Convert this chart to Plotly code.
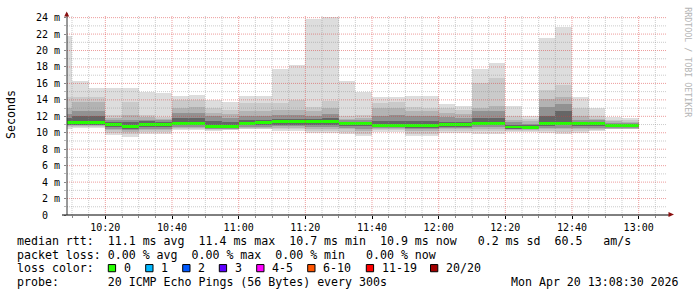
import plotly.graph_objects as go
import pandas as pd

# ---------------- data ----------------
# 5-minute RRD steps, each value belongs to the interval ending at seg_end
seg_end = pd.date_range("2026-04-20 10:10:00", periods=35, freq="5min")

ping_max = [21.8, 16.3, 15.5, 15.4, 15.4, 15.0, 14.8, 14.5, 14.6, 14.0, 13.8, 14.5, 14.5, 17.8, 18.3,
            23.8, 24.1, 16.3, 15.0, 14.4, 14.3, 14.5, 14.5, 13.5, 13.3, 17.8, 18.5, 13.2, 12.0, 21.5,
            22.9, 14.4, 13.0, 11.9, 11.8]
upper2 = [14.3, 14.4, 14.4, 12.1, 13.7, 12.1, 11.9, 14.0, 14.0, 13.0, 12.8, 13.6, 13.6, 13.6, 14.0,
          13.1, 13.9, 12.0, 12.1, 13.6, 13.8, 13.1, 13.0, 13.0, 12.8, 16.0, 16.6, 12.0, 11.7, 15.2,
          15.8, 13.0, 12.0, 11.6, 11.6]
upper3 = [13.0, 13.8, 13.8, 11.8, 12.1, 11.9, 11.7, 13.0, 13.1, 12.4, 12.3, 12.6, 12.6, 12.8, 12.8,
          12.6, 13.0, 11.7, 11.8, 13.0, 13.0, 12.6, 12.6, 12.4, 12.3, 13.0, 13.2, 11.6, 11.4, 14.1,
          14.4, 12.0, 11.7, 11.4, 11.3]
upper4 = [12.3, 12.6, 12.6, 11.5, 11.6, 11.6, 11.5, 12.4, 12.4, 12.0, 11.8, 12.0, 12.0, 12.2, 12.2,
          12.0, 12.3, 11.5, 11.5, 12.0, 12.1, 12.0, 12.0, 11.9, 11.8, 12.6, 12.6, 11.3, 11.1, 13.1,
          13.5, 11.6, 11.5, 11.2, 11.15]
upper5 = [11.8, 12.0, 12.0, 11.3, 11.3, 11.4, 11.3, 11.8, 11.8, 11.4, 11.3, 11.6, 11.6, 11.7, 11.7,
          11.7, 11.8, 11.3, 11.3, 11.4, 11.4, 11.4, 11.4, 11.3, 11.3, 11.8, 11.8, 11.0, 10.9, 12.0,
          12.6, 11.3, 11.3, 11.05, 11.0]
median_rtt = [11.3, 11.3, 11.3, 11.0, 10.8, 11.0, 11.0, 11.1, 11.1, 10.8, 10.76, 11.1, 11.2, 11.35, 11.4,
              11.4, 11.4, 11.1, 11.1, 10.9, 10.9, 10.9, 10.9, 11.0, 11.0, 11.1, 11.1, 10.7, 10.65, 11.1,
              11.15, 11.1, 11.1, 10.9, 10.85]
lower5 = [11.0, 11.0, 11.0, 10.7, 10.5, 10.7, 10.7, 10.9, 10.9, 10.6, 10.6, 10.9, 10.9, 11.0, 11.0,
          11.0, 11.0, 10.8, 10.8, 10.7, 10.7, 10.6, 10.6, 10.7, 10.7, 10.9, 10.9, 10.5, 10.5, 10.8,
          10.9, 10.8, 10.8, 10.7, 10.7]
lower4 = [10.9, 10.9, 10.9, 10.5, 10.3, 10.5, 10.5, 10.7, 10.7, 10.5, 10.5, 10.7, 10.7, 10.8, 10.8,
          10.7, 10.7, 10.6, 10.5, 10.6, 10.6, 10.4, 10.4, 10.6, 10.6, 10.7, 10.7, 10.4, 10.4, 10.6,
          10.6, 10.6, 10.6, 10.6, 10.6]
lower3 = [10.8, 10.8, 10.8, 10.3, 10.1, 10.3, 10.3, 10.6, 10.6, 10.4, 10.4, 10.6, 10.6, 10.6, 10.6,
          10.4, 10.4, 10.4, 10.2, 10.5, 10.5, 10.2, 10.2, 10.4, 10.4, 10.5, 10.5, 10.3, 10.3, 10.4,
          10.4, 10.4, 10.5, 10.5, 10.5]
lower2 = [10.7, 10.7, 10.7, 10.0, 9.8, 10.1, 10.1, 10.5, 10.5, 10.3, 10.3, 10.5, 10.5, 10.4, 10.4,
          10.2, 10.2, 10.1, 9.9, 10.3, 10.3, 9.9, 9.9, 10.2, 10.2, 10.2, 10.2, 10.2, 10.2, 10.2,
          10.1, 10.2, 10.3, 10.45, 10.45]
ping_min = [10.5, 10.6, 10.6, 9.7, 9.5, 9.8, 9.8, 10.3, 10.3, 10.2, 10.3, 10.4, 10.4, 10.2, 10.2,
            10.0, 10.0, 9.8, 9.6, 10.1, 10.1, 9.6, 9.6, 10.0, 10.0, 9.9, 9.9, 10.1, 10.1, 10.0,
            9.8, 10.0, 10.2, 10.4, 10.4]

y_tick_vals = [0, 2, 4, 6, 8, 10, 12, 14, 16, 18, 20, 22, 24]
y_tick_text = ["0  ", "2 m", "4 m", "6 m", "8 m", "10 m", "12 m", "14 m", "16 m", "18 m", "20 m", "22 m", "24 m"]
y_minor_vals = [1, 3, 5, 7, 9, 11, 13, 15, 17, 19, 21, 23]

loss_labels = ["0", "1", "2", "3", "4-5", "6-10", "11-19", "20/20"]
loss_colors = ["#26ff00", "#00b8ff", "#0059ff", "#5e00ff", "#ff00ff", "#ff5500", "#ff0000", "#a10000"]
loss_box_px = [108.3, 145.7, 182.7, 219.3, 256.7, 307.7, 366.3, 430.5]

stats_line1 = "median rtt:  11.1 ms avg  11.4 ms max  10.7 ms min  10.9 ms now   0.2 ms sd  60.5   am/s"
stats_line2 = "packet loss: 0.00 % avg  0.00 % max  0.00 % min   0.00 % now"
probe_line = "probe:       20 ICMP Echo Pings (56 Bytes) every 300s"
stamp_text = "Mon Apr 20 13:08:30 2026"

X0 = pd.Timestamp("2026-04-20 10:08:30")
X1 = pd.Timestamp("2026-04-20 13:08:30")
Y_TOP = 24.32

# ---------------- geometry helpers ----------------
FIG_W, FIG_H = 697, 297
ML, MT, PW, PH = 67, 12, 600, 203
MONO = "DejaVu Sans Mono"


def px_x(px):
    return (px - ML) / PW


def px_y(py):
    return (MT + PH - py) / PH


def nb(s):
    return s.replace(" ", "\u00a0")


seg_mid = seg_end - pd.Timedelta(seconds=150)
step_ms = 300000

fig = go.Figure()
layers = [
    (ping_max, ping_min, "#dddddd"),
    (upper2, lower2, "#cacaca"),
    (upper3, lower3, "#b3b3b3"),
    (upper4, lower4, "#929292"),
    (upper5, lower5, "#666666"),
]
for up, lo, col in layers:
    fig.add_trace(go.Bar(
        x=seg_mid, y=[u - l for u, l in zip(up, lo)], base=lo, width=step_ms,
        marker=dict(color=col, line=dict(width=0)), hoverinfo="skip", showlegend=False))

band = 0.18
fig.add_trace(go.Bar(
    x=seg_mid, y=[2 * band] * len(median_rtt), base=[m - band for m in median_rtt], width=step_ms,
    marker=dict(color=loss_colors[0], line=dict(width=0)), hoverinfo="skip", showlegend=False))

# ---------------- grid (drawn above data as RRDtool does) ----------------
shapes = []
minor_col = "rgba(140,140,140,0.45)"
major_col = "rgba(220,60,60,0.5)"
for v in y_minor_vals:
    shapes.append(dict(type="line", xref="paper", yref="y", x0=0, x1=1, y0=v, y1=v,
                       line=dict(color=minor_col, width=1, dash="1px,1px"), layer="above"))
for v in y_tick_vals[1:]:
    shapes.append(dict(type="line", xref="paper", yref="y", x0=0, x1=1, y0=v, y1=v,
                       line=dict(color=major_col, width=1, dash="1px,1px"), layer="above"))
t = pd.Timestamp("2026-04-20 10:10:00")
while t < X1:
    is_major = (t.minute % 20 == 0)
    shapes.append(dict(type="line", xref="x", yref="paper", x0=t, x1=t, y0=0, y1=1,
                       line=dict(color=major_col if is_major else minor_col, width=1, dash="1px,1px"),
                       layer="above"))
    t += pd.Timedelta(minutes=5)

# axis lines
shapes.append(dict(type="line", xref="paper", yref="paper", x0=px_x(62), x1=px_x(670),
                   y0=0, y1=0, line=dict(color="black", width=1), layer="above"))
shapes.append(dict(type="line", xref="paper", yref="paper", x0=0, x1=0,
                   y0=0, y1=px_y(10), line=dict(color="#333333", width=1), layer="above"))
# arrows
arrow_col = "#8b1010"
shapes.append(dict(type="path", xref="paper", yref="paper", layer="above",
                   path="M {} {} L {} {} L {} {} Z".format(px_x(64.2), px_y(13.5), px_x(69.2), px_y(13.5),
                                                        px_x(66.7), px_y(8.5)),
                   fillcolor=arrow_col, line=dict(width=0)))
shapes.append(dict(type="path", xref="paper", yref="paper", layer="above",
                   path="M {} {} L {} {} L {} {} Z".format(px_x(668.5), px_y(212), px_x(668.5), px_y(217),
                                                        px_x(674), px_y(214.5)),
                   fillcolor=arrow_col, line=dict(width=0)))

# legend boxes
for bx, col in zip(loss_box_px, loss_colors):
    shapes.append(dict(type="rect", xref="paper", yref="paper",
                       x0=px_x(bx), x1=px_x(bx + 7.3), y0=px_y(265.3), y1=px_y(272.6),
                       fillcolor=col, line=dict(color="black", width=1), layer="above"))

# ---------------- texts ----------------
ann = []


def text_at(txt, px, py, anchor="left", size=11.6, color="#000000", angle=0):
    ann.append(dict(text=nb(txt), x=px_x(px), y=px_y(py), xref="paper", yref="paper",
                    xanchor=anchor, yanchor="middle", showarrow=False, borderpad=0,
                    textangle=angle, font=dict(family=MONO, size=size, color=color)))


text_at(stats_line1, 16, 241.7)
text_at(stats_line2, 16, 255.4)
text_at("loss color:", 16, 269.1)
for bx, lab in zip(loss_box_px, loss_labels):
    text_at(lab, bx + 14.3, 269.1)
text_at(probe_line, 16, 282.8)
text_at(stamp_text, 680, 282.8, anchor="right")
ann.append(dict(text="Seconds", x=px_x(11), y=0.5, xref="paper", yref="paper", xanchor="center",
                yanchor="middle", showarrow=False, textangle=-90,
                font=dict(family=MONO, size=11.6, color="#000000")))
ann.append(dict(text=nb("RRDTOOL / TOBI OETIKER"), x=px_x(688), y=px_y(60), xref="paper", yref="paper",
                xanchor="center", yanchor="middle", showarrow=False, textangle=90,
                font=dict(family=MONO, size=8.3, color="#b4b4b4")))

fig.update_layout(
    width=FIG_W, height=FIG_H,
    margin=dict(l=ML, r=FIG_W - ML - PW, t=MT, b=FIG_H - MT - PH, pad=0),
    paper_bgcolor="white", plot_bgcolor="white",
    barmode="overlay", bargap=0,
    showlegend=False,
    shapes=shapes, annotations=ann,
    xaxis=dict(type="date", range=[X0, X1], showgrid=False, zeroline=False, showline=False,
               tick0="2026-04-20 10:20:00", dtick=1200000, tickformat="%H:%M",
               ticks="outside", ticklen=3, tickcolor="black",
               minor=dict(tick0="2026-04-20 10:20:00", dtick=300000, ticks="outside", ticklen=2,
                          tickcolor="#888888", showgrid=False),
               tickfont=dict(family=MONO, size=10, color="#000000")),
    yaxis=dict(range=[0, Y_TOP], showgrid=False, zeroline=False, showline=False,
               tickmode="array", tickvals=y_tick_vals, ticktext=[nb(s) for s in y_tick_text],
               ticks="outside", ticklen=2, tickcolor="#888888", ticklabelstandoff=2,
               minor=dict(tickmode="array", tickvals=y_minor_vals, ticks="outside", ticklen=2,
                          tickcolor="#bbbbbb", showgrid=False),
               tickfont=dict(family=MONO, size=10, color="#000000")),
)

fig.write_html("out.html")
